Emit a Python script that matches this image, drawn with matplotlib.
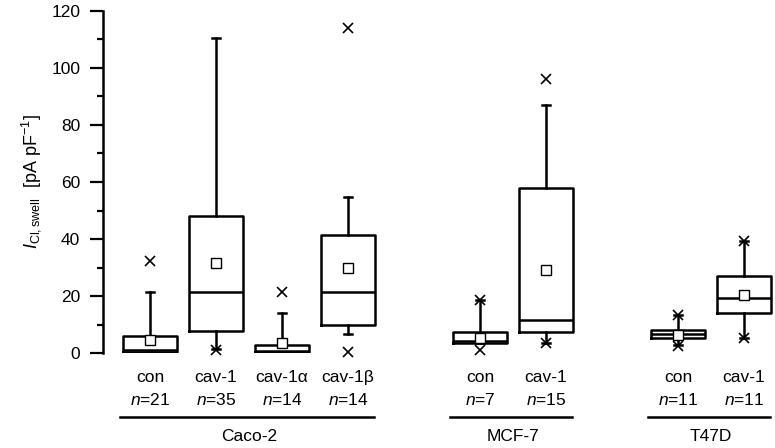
import matplotlib
matplotlib.use('Agg')
import matplotlib.pyplot as plt
import matplotlib.transforms as mtransforms
import numpy as np

plt.rcParams['font.family'] = ['Liberation Sans', 'DejaVu Sans']
plt.rcParams['mathtext.fontset'] = 'custom'
plt.rcParams['mathtext.rm'] = 'Liberation Sans'
plt.rcParams['mathtext.it'] = 'Liberation Sans:italic'

# data (pA/pF)
labels = ['con', 'cav-1', 'cav-1\u03b1', 'cav-1\u03b2', 'con', 'cav-1', 'con', 'cav-1']
n_cells = [21, 35, 14, 14, 7, 15, 11, 11]
positions = [0, 1, 2, 3, 5, 6, 8, 9]
q1 = [0.3, 7.8, 0.3, 9.8, 3.6, 7.5, 5.3, 14.2]
med = [1.2, 21.5, 0.8, 21.3, 4.3, 11.5, 6.8, 19.5]
q3 = [6.2, 48.0, 2.8, 41.3, 7.5, 57.8, 8.3, 27.2]
whis_lo = [0.3, 1.5, 0.3, 6.8, 3.6, 3.5, 3.0, 5.5]
whis_hi = [21.5, 110.3, 14.2, 54.8, 18.6, 87.0, 13.5, 39.5]
means = [4.6, 31.5, 3.6, 30.0, 5.5, 29.2, 6.5, 20.5]
x_max = [32.5, np.nan, 21.5, 114.0, 18.6, 96.0, 13.5, 39.5]
x_min = [np.nan, 1.1, np.nan, 0.4, 1.0, 3.5, 2.5, 5.5]

groups = ['Caco-2', 'MCF-7', 'T47D']
group_members = [[0, 1, 2, 3], [4, 5], [6, 7]]

stats = []
for i in range(len(labels)):
    stats.append({'q1': q1[i], 'med': med[i], 'q3': q3[i],
                  'whislo': whis_lo[i], 'whishi': whis_hi[i], 'fliers': []})

fig = plt.figure(figsize=(7.75, 4.48), dpi=100)
ax = fig.add_axes([0.133, 0.2114, 0.867, 0.7647])

lw = 1.8
ax.bxp(stats, positions=positions, widths=0.82, capwidths=0.11,
       showfliers=False, manage_ticks=False,
       boxprops=dict(color='black', linewidth=lw),
       medianprops=dict(color='black', linewidth=lw),
       whiskerprops=dict(color='black', linewidth=lw),
       capprops=dict(color='black', linewidth=lw))

ax.plot(positions, means, linestyle='none', marker='s', markersize=6.5,
        markerfacecolor='white', markeredgecolor='black', markeredgewidth=1.0, zorder=4)
ax.plot(positions, x_max, linestyle='none', marker='x', markersize=7.5,
        color='black', markeredgewidth=1.2, clip_on=False, zorder=4)
ax.plot(positions, x_min, linestyle='none', marker='x', markersize=7.5,
        color='black', markeredgewidth=1.2, clip_on=False, zorder=4)

fs = 12.5
ax.set_xlim(-0.712, 9.47)
ax.set_ylim(0, 120)
ax.set_yticks(np.arange(0, 121, 20))
ax.set_yticks(np.arange(10, 120, 20), minor=True)
ax.tick_params(axis='y', which='major', length=9.5, width=1.6, labelsize=12.5, pad=7)
ax.tick_params(axis='y', which='minor', length=4.5, width=1.6)
ax.set_xticks([])
for s in ['top', 'right', 'bottom']:
    ax.spines[s].set_visible(False)
ax.spines['left'].set_linewidth(1.8)

ax.set_ylabel(r'$I_{\rm Cl,swell}$  [pA pF$^{-1}$]', fontsize=13, labelpad=6)

trans = mtransforms.blended_transform_factory(ax.transData, ax.transAxes)
for i in range(len(labels)):
    ax.text(positions[i], -0.072, labels[i], transform=trans, ha='center', va='center', fontsize=fs)
    ax.text(positions[i], -0.137, r'$n$=%d' % n_cells[i], transform=trans, ha='center', va='center', fontsize=fs)

for g, members in zip(groups, group_members):
    p = [positions[m] for m in members]
    ax.plot([min(p) - 0.45, max(p) + 0.4], [-0.186, -0.186], transform=trans,
            color='black', linewidth=1.8, clip_on=False)
    ax.text((min(p) + max(p)) / 2, -0.244, g, transform=trans, ha='center', va='center', fontsize=fs)

fig.savefig('out.png', dpi=100)
